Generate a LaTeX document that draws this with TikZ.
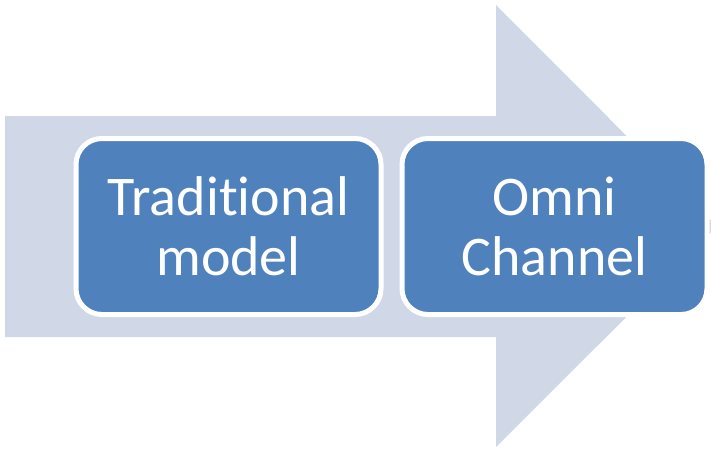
\documentclass[tikz,border=0pt]{standalone}
\usepackage{fontspec}
\setmainfont[Ligatures={NoCommon,NoRare}]{Carlito}
\definecolor{arrowblue}{HTML}{D0D8E8}
\definecolor{boxblue}{HTML}{4F81BD}
\tikzset{
    stagebox/.style={draw=white, line width=5pt, fill=boxblue, rounded corners=26pt,
        minimum width=305pt, minimum height=176pt, text=white, align=center,
        font=\fontsize{56}{60}\selectfont, inner sep=0pt}
}
\begin{document}
\begin{tikzpicture}[x=1pt, y=-1pt]
            \useasboundingbox (0, 0) rectangle (711, 448);
            \clip (0, 0) rectangle (711, 448);

            \fill[arrowblue] (5, 116) -- (496, 116) -- (496, 5) -- (717, 226.5)
                -- (496, 447) -- (496, 337) -- (5, 337) -- cycle;

            \node[stagebox] (trad) at (228.5, 226.5) {Traditional\\model};
            \node[stagebox] (omni) at (554.5, 226.5) {Omni\\Channel};
        \end{tikzpicture}
\end{document}
